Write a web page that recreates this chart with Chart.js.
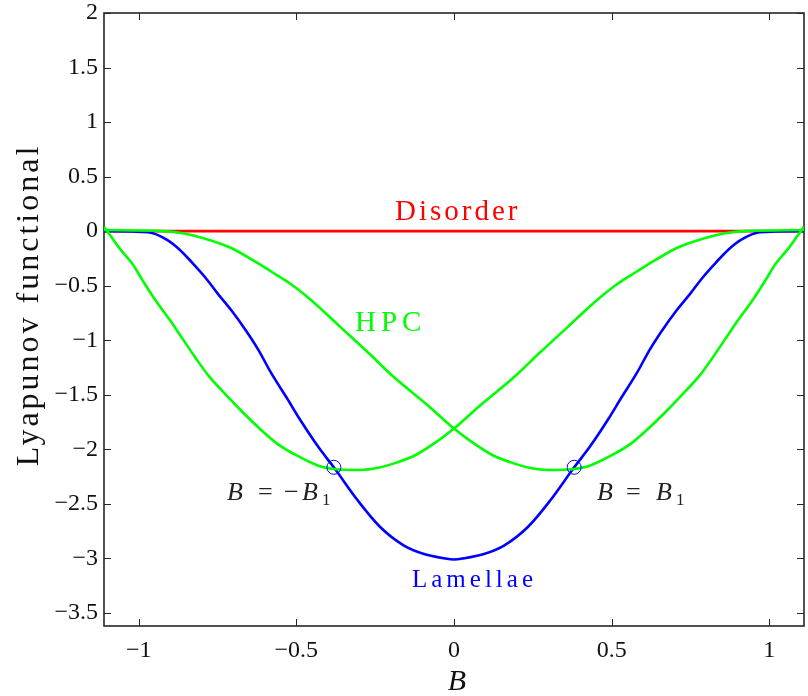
<!DOCTYPE html>
<html>
<head>
<meta charset="utf-8">
<script src="https://cdn.jsdelivr.net/npm/chart.js@4.4.0/dist/chart.umd.min.js"></script>
<style>
html, body { margin: 0; padding: 0; background: #fff; overflow: hidden; }
canvas { display: block; }
</style>
</head>
<body>
<canvas id="chartLyapunov" width="812" height="696"></canvas>
<script>
// datos
var xTicks = [-1, -0.5, 0, 0.5, 1]
var yTicks = [2, 1.5, 1, 0.5, 0, -0.5, -1, -1.5, -2, -2.5, -3, -3.5]

var disorderB = [-1.11, 1.11]
var disorderF = [0, 0]

var lamellaeB = [-1.11, -0.97, -0.91, -0.87, -0.83, -0.79, -0.75, -0.705, -0.66, -0.62, -0.58, -0.53, -0.49, -0.43, -0.38, -0.305, -0.235, -0.16, -0.095, -0.03, 0,
                 0.03, 0.095, 0.16, 0.235, 0.305, 0.38, 0.43, 0.49, 0.53, 0.58, 0.62, 0.66, 0.705, 0.75, 0.79, 0.83, 0.87, 0.91, 0.97, 1.11]
var lamellaeF = [0, -0.01, -0.08, -0.17, -0.29, -0.42, -0.57, -0.73, -0.91, -1.09, -1.3, -1.53, -1.72, -1.98, -2.17, -2.47, -2.71, -2.88, -2.96, -3.0, -3.01,
                 -3.0, -2.96, -2.88, -2.71, -2.47, -2.17, -1.98, -1.72, -1.53, -1.3, -1.09, -0.91, -0.73, -0.57, -0.42, -0.29, -0.17, -0.08, -0.01, 0]

var hpcUnoB = [-1.11, -1.09, -1.06, -1.02, -0.99, -0.95, -0.9, -0.86, -0.82, -0.78, -0.72, -0.67, -0.62, -0.56, -0.49, -0.43, -0.38, -0.3, -0.24, -0.18, -0.12, -0.05, 0,
               0.09, 0.19, 0.27, 0.36, 0.45, 0.52, 0.58, 0.63, 0.71, 0.8, 0.86, 0.92, 1.11]
var hpcUnoF = [0.04, -0.04, -0.16, -0.3, -0.44, -0.62, -0.82, -0.99, -1.16, -1.32, -1.51, -1.66, -1.8, -1.95, -2.07, -2.15, -2.18, -2.19, -2.17, -2.12, -2.05, -1.92, -1.81,
               -1.58, -1.34, -1.12, -0.88, -0.64, -0.48, -0.37, -0.28, -0.15, -0.06, -0.02, 0, 0.01]

var hpcDosB = [-1.11, -0.92, -0.86, -0.8, -0.71, -0.63, -0.58, -0.52, -0.45, -0.36, -0.27, -0.19, -0.09, 0,
               0.05, 0.12, 0.18, 0.24, 0.3, 0.38, 0.43, 0.49, 0.56, 0.62, 0.67, 0.72, 0.78, 0.82, 0.86, 0.9, 0.95, 0.99, 1.02, 1.06, 1.09, 1.11]
var hpcDosF = [0.01, 0, -0.02, -0.06, -0.15, -0.28, -0.37, -0.48, -0.64, -0.88, -1.12, -1.34, -1.58, -1.81,
               -1.92, -2.05, -2.12, -2.17, -2.19, -2.18, -2.15, -2.07, -1.95, -1.8, -1.66, -1.51, -1.32, -1.16, -0.99, -0.82, -0.62, -0.44, -0.3, -0.16, -0.04, 0.04]

var cruceB = [-0.381, 0.381]
var cruceF = [-2.165, -2.165]

function puntos(xs, ys){
    return xs.map(function(x, i){ return {x: x, y: ys[i]} })
}

function etiqueta(val){
    return val < 0 ? '\u2212' + Math.abs(val) : String(val)
}

var serif = '"Liberation Serif", "Times New Roman", serif'

// texto con partes en cursiva y subindice
function textoMath(ctx, partes, y){
    partes.forEach(function(p){
        ctx.font = (p.it ? 'italic ' : '') + p.size + 'px ' + serif
        ctx.fillText(p.t, p.x, y + (p.dy || 0))
    })
}

var marcoPlugin = {
    id: 'marco',
    beforeDatasetsDraw: function(chart){
        let ctx = chart.ctx
        let a = chart.chartArea
        let sx = chart.scales.x
        let sy = chart.scales.y
        ctx.save()
        ctx.strokeStyle = '#262626'
        ctx.lineWidth = 1
        ctx.beginPath()
        xTicks.forEach(function(v){
            let px = Math.round(sx.getPixelForValue(v)) + 0.5
            ctx.moveTo(px, a.bottom); ctx.lineTo(px, a.bottom - 7)
            ctx.moveTo(px, a.top); ctx.lineTo(px, a.top + 7)
        })
        yTicks.forEach(function(v){
            let py = Math.round(sy.getPixelForValue(v)) + 0.5
            ctx.moveTo(a.left, py); ctx.lineTo(a.left + 7, py)
            ctx.moveTo(a.right, py); ctx.lineTo(a.right - 7, py)
        })
        ctx.stroke()
        ctx.lineWidth = 1.6
        ctx.strokeRect(a.left, a.top, a.right - a.left, a.bottom - a.top)
        ctx.restore()
    },
    afterDatasetsDraw: function(chart){
        let ctx = chart.ctx
        ctx.save()
        ctx.textAlign = 'left'
        ctx.textBaseline = 'alphabetic'

        ctx.letterSpacing = '3px'
        ctx.fillStyle = '#ff0000'
        ctx.font = '29px ' + serif
        ctx.fillText('Disorder', 395, 220)

        ctx.letterSpacing = '5px'
        ctx.fillStyle = '#00ff00'
        ctx.fillText('HPC', 355, 331)

        ctx.letterSpacing = '4px'
        ctx.fillStyle = '#0000ff'
        ctx.font = '25px ' + serif
        ctx.fillText('Lamellae', 412, 587)

        ctx.letterSpacing = '0px'
        ctx.fillStyle = '#222'
        textoMath(ctx, [
            {t: 'B', x: 227, size: 26, it: true},
            {t: '=', x: 258, size: 26},
            {t: '\u2212', x: 284, size: 26},
            {t: 'B', x: 302, size: 26, it: true},
            {t: '1', x: 322, size: 17, dy: 5}
        ], 500)
        textoMath(ctx, [
            {t: 'B', x: 597, size: 26, it: true},
            {t: '=', x: 626, size: 26},
            {t: 'B', x: 656, size: 26, it: true},
            {t: '1', x: 676, size: 17, dy: 5}
        ], 500)

        // titulos de ejes
        ctx.fillStyle = '#111'
        ctx.textAlign = 'center'
        ctx.font = 'italic 30px ' + serif
        ctx.fillText('B', 457, 690)

        ctx.translate(38, 305)
        ctx.rotate(-Math.PI / 2)
        ctx.letterSpacing = '3px'
        ctx.font = '32px ' + serif
        ctx.fillText('Lyapunov functional', 0, 0)
        ctx.restore()
    }
}

var ctx = document.getElementById('chartLyapunov')
var chartLyapunov = new Chart(ctx, {
    type: 'scatter',
    data: {
        datasets: [{
            label: 'crossings',
            data: puntos(cruceB, cruceF),
            showLine: false,
            pointStyle: 'circle',
            pointRadius: 7,
            pointBorderWidth: 1,
            pointBorderColor: '#0000ff',
            pointBackgroundColor: 'rgba(0,0,0,0)',
            order: 0
        }, {
            label: 'HPC 1',
            data: puntos(hpcUnoB, hpcUnoF),
            showLine: true,
            borderColor: '#00ff00',
            borderWidth: 2.6,
            pointRadius: 0,
            cubicInterpolationMode: 'monotone',
            order: 1
        }, {
            label: 'HPC 2',
            data: puntos(hpcDosB, hpcDosF),
            showLine: true,
            borderColor: '#00ff00',
            borderWidth: 2.6,
            pointRadius: 0,
            cubicInterpolationMode: 'monotone',
            order: 1
        }, {
            label: 'Lamellae',
            data: puntos(lamellaeB, lamellaeF),
            showLine: true,
            borderColor: '#0000ff',
            borderWidth: 2.6,
            pointRadius: 0,
            cubicInterpolationMode: 'monotone',
            order: 2
        }, {
            label: 'Disorder',
            data: puntos(disorderB, disorderF),
            showLine: true,
            borderColor: '#ff0000',
            borderWidth: 2.6,
            pointRadius: 0,
            order: 3
        }]
    },
    options: {
        responsive: false,
        animation: false,
        layout: { padding: { top: 13, right: 2, left: 0, bottom: 0 } },
        plugins: {
            legend: { display: false },
            tooltip: { enabled: false }
        },
        scales: {
            x: {
                type: 'linear',
                min: -1.11,
                max: 1.11,
                grid: { display: false, drawTicks: false },
                border: { display: false },
                afterBuildTicks: function(scale){
                    scale.ticks = xTicks.map(function(v){ return {value: v} })
                },
                afterFit: function(scale){
                    scale.height = 70
                    scale.paddingLeft = 0
                    scale.paddingRight = 0
                },
                ticks: {
                    padding: 10,
                    maxRotation: 0,
                    color: '#111',
                    font: { family: serif, size: 24 },
                    callback: etiqueta
                }
            },
            y: {
                type: 'linear',
                min: -3.62,
                max: 2,
                grid: { display: false, drawTicks: false },
                border: { display: false },
                afterBuildTicks: function(scale){
                    scale.ticks = yTicks.map(function(v){ return {value: v} })
                },
                afterFit: function(scale){
                    scale.width = 104
                    scale.paddingTop = 0
                    scale.paddingBottom = 0
                },
                ticks: {
                    padding: 6,
                    color: '#111',
                    font: { family: serif, size: 24 },
                    callback: etiqueta
                }
            }
        }
    },
    plugins: [marcoPlugin]
})
</script>
</body>
</html>
